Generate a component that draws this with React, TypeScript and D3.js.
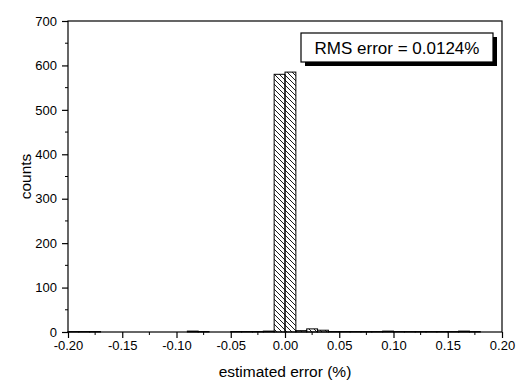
import React, { useEffect, useRef } from "react";
import * as d3 from "d3";

// histogram bins (left edge, width 0.01) and counts
const binStarts = [
  -0.2, -0.19, -0.18, -0.17, -0.16, -0.15, -0.14, -0.13, -0.12, -0.11,
  -0.1, -0.09, -0.08, -0.07, -0.06, -0.05, -0.04, -0.03, -0.02, -0.01,
  0.0, 0.01, 0.02, 0.03, 0.04, 0.05, 0.06, 0.07, 0.08, 0.09,
  0.1, 0.11, 0.12, 0.13, 0.14, 0.15, 0.16, 0.17, 0.18, 0.19,
];
const counts = [
  1, 1, 1, 0, 0, 0, 0, 0, 0, 0,
  0, 2, 1, 0, 0, 1, 1, 1, 2, 580,
  585, 3, 7, 4, 1, 1, 1, 1, 1, 2,
  1, 1, 1, 1, 1, 1, 2, 1, 0, 0,
];
const binWidth = 0.01;
const xTicks = [-0.2, -0.15, -0.1, -0.05, 0, 0.05, 0.1, 0.15, 0.2];
const yTicks = [0, 100, 200, 300, 400, 500, 600, 700];
const legendText = "RMS error = 0.0124%";

export default function App() {
  const svgRef = useRef<SVGSVGElement>(null);

  useEffect(() => {
    const svg = d3.select(svgRef.current);
    svg.selectAll("*").remove();

    const left = 68, right = 502, top = 21, bottom = 332;
    const font = "Arial, 'Liberation Sans', sans-serif";

    const x = d3.scaleLinear().domain([-0.2, 0.2]).range([left, right]);
    const y = d3.scaleLinear().domain([0, 700]).range([bottom, top]);

    svg
      .append("defs")
      .append("pattern")
      .attr("id", "hatch")
      .attr("patternUnits", "userSpaceOnUse")
      .attr("width", 5)
      .attr("height", 5)
      .append("path")
      .attr("d", "M0,0 L5,5 M-1,4 L1,6 M4,-1 L6,1")
      .attr("stroke", "#000")
      .attr("stroke-width", 0.9);

    svg.append("rect").attr("width", 521).attr("height", 385).attr("fill", "#fff");

    // bars
    svg
      .append("g")
      .selectAll("rect")
      .data(binStarts.map((b, i) => ({ b, c: counts[i] })).filter((d) => d.c > 0))
      .join("rect")
      .attr("x", (d) => x(d.b))
      .attr("y", (d) => y(d.c))
      .attr("width", (d) => x(d.b + binWidth) - x(d.b))
      .attr("height", (d) => y(0) - y(d.c))
      .attr("fill", "url(#hatch)")
      .attr("stroke", "#000")
      .attr("stroke-width", 1);

    // frame
    svg
      .append("rect")
      .attr("x", left)
      .attr("y", top)
      .attr("width", right - left)
      .attr("height", bottom - top)
      .attr("fill", "none")
      .attr("stroke", "#000")
      .attr("stroke-width", 1.2);

    // x axis
    const xAxis = d3
      .axisBottom(x)
      .tickValues(xTicks)
      .tickSizeInner(6)
      .tickSizeOuter(0)
      .tickPadding(3)
      .tickFormat((d) => d3.format(".2f")(d as number).replace("−", "-"));
    const gx = svg.append("g").attr("transform", `translate(0,${bottom})`).call(xAxis);
    gx.select(".domain").remove();
    gx.selectAll("line").attr("stroke-width", 1.2);
    gx.selectAll("text").attr("font-family", font).attr("font-size", 13).attr("fill", "#000");

    const gxMinor = svg.append("g").attr("transform", `translate(0,${bottom})`);
    gxMinor
      .selectAll("line")
      .data(d3.range(8).map((i) => -0.175 + i * 0.05))
      .join("line")
      .attr("x1", (d) => x(d))
      .attr("x2", (d) => x(d))
      .attr("y1", 0)
      .attr("y2", 3)
      .attr("stroke", "#000");

    // y axis
    const yAxis = d3
      .axisLeft(y)
      .tickValues(yTicks)
      .tickSizeInner(6)
      .tickSizeOuter(0)
      .tickPadding(5)
      .tickFormat(d3.format("d"));
    const gy = svg.append("g").attr("transform", `translate(${left},0)`).call(yAxis);
    gy.select(".domain").remove();
    gy.selectAll("line").attr("stroke-width", 1.2);
    gy.selectAll("text").attr("font-family", font).attr("font-size", 13).attr("fill", "#000");

    const gyMinor = svg.append("g").attr("transform", `translate(${left},0)`);
    gyMinor
      .selectAll("line")
      .data(d3.range(7).map((i) => 50 + i * 100))
      .join("line")
      .attr("x1", 0)
      .attr("x2", -3)
      .attr("y1", (d) => y(d))
      .attr("y2", (d) => y(d))
      .attr("stroke", "#000");

    // axis titles
    svg
      .append("text")
      .attr("x", (left + right) / 2)
      .attr("y", 377)
      .attr("text-anchor", "middle")
      .attr("font-family", font)
      .attr("font-size", 15.5)
      .text("estimated error (%)");

    svg
      .append("text")
      .attr("transform", `translate(31,${(top + bottom) / 2}) rotate(-90)`)
      .attr("text-anchor", "middle")
      .attr("font-family", font)
      .attr("font-size", 15.5)
      .text("counts");

    // legend box with shadow
    const lg = svg.append("g");
    lg.append("rect").attr("x", 305).attr("y", 37).attr("width", 192).attr("height", 29).attr("fill", "#000");
    lg.append("rect")
      .attr("x", 301)
      .attr("y", 33)
      .attr("width", 192)
      .attr("height", 29)
      .attr("fill", "#fff")
      .attr("stroke", "#000")
      .attr("stroke-width", 1.2);
    lg.append("text")
      .attr("x", 397)
      .attr("y", 53.5)
      .attr("text-anchor", "middle")
      .attr("font-family", font)
      .attr("font-size", 17)
      .text(legendText);
  }, []);

  return (
    <svg
      ref={svgRef}
      width={521}
      height={385}
      style={{ position: "absolute", left: 0, top: 0 }}
    ></svg>
  );
}
